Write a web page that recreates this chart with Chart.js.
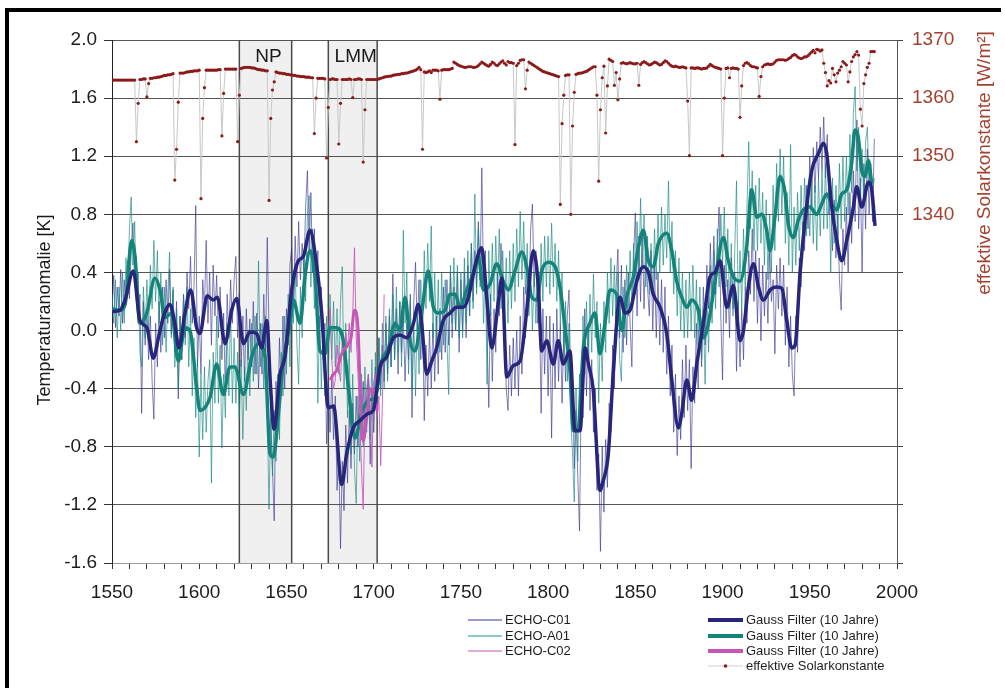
<!DOCTYPE html>
<html>
<head>
<meta charset="utf-8">
<script src="https://cdn.jsdelivr.net/npm/chart.js@4.4.1/dist/chart.umd.min.js"></script>
<style>
  html, body { margin: 0; padding: 0; background: #fff; }
  #wrap { position: relative; width: 1005px; height: 688px; }
</style>
</head>
<body>
<div id="wrap"><canvas id="c" width="1005" height="688"></canvas></div>
<script>
// ---- data -------------------------------------------------------------
const firstYear = 1550;           // annual series start
const pinkFirstYear = 1674;       // ECHO-C02 run start

// ECHO-C01 annual temperature anomaly [K], 1550-1987
const echoC01 = [
  0.13, 0.38, 0.02, 0.30, 0.10, 0.42, 0.05, 0.35, 0.18, 0.48,
  0.22, 0.55, 0.74, 0.30, 0.45, 0.05, 0.25, -0.57, 0.20, -0.10,
  0.15, -0.20, 0.10, -0.35, -0.61, 0.05, -0.25, 0.20, -0.15, 0.30,
  -0.05, 0.35, 0.05, 0.42, -0.02, 0.28, -0.15, 0.20, -0.47, 0.10,
  -0.20, 0.25, -0.05, 0.40, 0.15, 0.51, 0.05, 0.30, 0.86, -0.25,
  0.10, -0.30, 0.35, 0.15, 0.62, 0.05, 0.40, -0.10, 0.45, 0.10,
  0.38, -0.05, 0.30, -0.20, 0.12, -0.45, 0.25, -0.05, 0.35, 0.05,
  0.35, 0.51, -0.05, 0.25, -0.25, 0.10, -0.35, 0.15, -0.20, 0.08,
  -0.25, 0.20, -0.30, 0.12, -0.40, 0.05, -0.30, 0.25, -0.15, 0.64,
  0.00, -0.60, -0.95, -1.31, -0.35, -0.70, -0.05, -0.45, 0.10, -0.40,
  0.15, -0.10, 0.45, 0.57, 0.20, 0.65, 0.30, 0.75, 0.35, 0.60,
  0.40, 0.85, 1.10, 0.55, 0.95, 0.40, 0.70, 0.20, 0.55, -0.05,
  0.30, -0.20, 0.05, -0.78, -0.35, -0.70, -0.30, -0.75, -0.45, -1.10,
  -0.85, -1.50, -0.90, -1.24, -0.65, -1.05, -0.55, -0.95, -0.50, -0.85,
  -0.45, -0.80, -0.40, -0.75, -0.35, -0.70, -0.45, -0.30, -0.92, -0.40,
  -0.70, -0.25, -0.55, -0.05, -0.40, -0.10, -0.35, 0.05, -0.30, 0.10,
  -0.25, 0.39, -0.20, 0.15, -0.30, 0.20, -0.15, 0.10, -0.35, 0.05,
  -0.20, 0.25, -0.60, 0.20, 0.47, 0.00, 0.35, -0.20, 0.15, -0.62,
  -0.10, -0.45, 0.00, -0.40, 0.05, -0.35, 0.10, -0.30, 0.15, -0.20,
  0.30, -0.15, 0.35, -0.10, 0.40, -0.05, 0.30, 0.00, 0.40, -0.15,
  0.35, 0.00, 0.40, -0.05, 0.45, 0.10, 0.60, 0.20, 0.55, 0.30,
  0.75, 0.35, 1.12, 0.30, 0.55, -0.05, -0.53, 0.25, -0.35, 0.15,
  -0.15, 0.40, 0.10, 0.60, 0.25, 0.05, -0.40, -0.55, -0.10, -0.45,
  -0.05, -0.40, 0.00, -0.45, 0.10, -0.30, 0.30, -0.05, 0.45, 0.20,
  0.70, 0.87, 0.30, 0.55, 0.05, 0.20, -0.57, 0.15, -0.30, 0.10,
  -0.45, 0.10, -0.74, 0.05, -0.40, 0.15, -0.35, 0.05, -0.50, 0.00,
  -0.35, 0.10, 0.28, -0.40, -0.30, -0.95, -0.55, -1.00, -1.38, -0.40,
  -0.60, 0.15, -0.45, 0.05, -0.55, -0.20, -0.70, -0.40, -1.10, -0.85,
  -1.52, -0.80, -1.25, -0.75, -1.08, -0.50, -0.70, -0.10, -0.40, 0.30,
  0.56, -0.05, 0.45, -0.15, 0.35, -0.10, 0.40, 0.05, -0.25, 0.50,
  0.81, 0.10, 0.65, 0.20, 0.70, 0.15, 0.60, 0.30, 0.10, 0.55,
  0.00, 0.45, -0.05, 0.40, -0.10, 0.35, -0.15, 0.30, -0.30, 0.10,
  -0.45, -0.10, -0.70, -0.30, -0.86, -0.45, -0.75, -0.20, -0.60, -0.10,
  -0.55, -0.20, -0.95, -0.25, -0.50, 0.05, -0.40, 0.15, -0.25, 0.30,
  -0.10, 0.45, 0.15, 0.60, 0.20, 0.65, 0.25, 0.55, 0.85, 0.10,
  -0.34, 0.45, 0.05, 0.35, -0.05, 0.50, 0.15, 0.40, -0.28, 0.20,
  -0.25, 0.15, -0.20, 0.30, 0.05, 0.55, 0.25, 0.70, 0.20, 0.55,
  0.05, 0.50, -0.07, 0.45, 0.10, 0.40, 0.05, 0.55, 0.20, 0.35,
  -0.16, 0.45, 0.15, 0.50, 0.10, 0.45, -0.10, 0.30, -0.25, 0.10,
  -0.30, -0.45, 0.10, -0.15, 0.50, 0.30, 0.75, 0.55, 1.00, 0.70,
  1.20, 0.85, 1.26, 0.95, 1.30, 1.05, 1.40, 1.10, 1.47, 1.05,
  1.35, 0.80, 1.00, 0.55, 0.90, 0.50, 0.80, 0.35, 0.14, 0.70,
  0.45, 0.85, 0.40, 0.95, 0.60, 1.10, 0.75, 1.45, 0.70, 1.05,
  0.40, 1.15, 0.70, 1.25, 0.80, 1.10, 0.75, 1.32
];

// ECHO-A01 annual temperature anomaly [K], 1550-1987
const echoA01 = [
  0.25, 0.05, 0.35, -0.05, 0.30, 0.00, 0.40, 0.05, 0.50, 0.30,
  0.70, 0.92, 0.45, 0.75, 0.20, 0.40, -0.15, -0.25, 0.30, -0.05,
  0.35, 0.00, 0.45, 0.15, 0.62, 0.20, 0.55, 0.05, 0.40, -0.10,
  0.30, -0.15, 0.25, 0.54, -0.05, 0.30, -0.25, 0.15, -0.40, 0.10,
  -0.20, 0.25, -0.10, 0.30, -0.25, 0.15, -0.45, -0.05, -0.60, -0.20,
  -0.87, -0.30, -0.75, -0.25, -0.70, -0.35, -0.20, -1.05, -0.15, -0.50,
  0.10, -0.50, -0.10, -0.81, -0.30, -0.60, 0.05, -0.45, 0.15, -0.50,
  -0.05, -0.50, -0.15, -0.60, -0.20, -0.75, -0.25, -0.55, 0.00, -0.45,
  0.05, -0.35, 0.10, -0.30, 0.48, -0.25, 0.05, -0.40, 0.10, -0.55,
  -1.23, -0.60, -1.00, -0.55, -0.90, -0.30, -0.75, -0.15, -0.45, 0.10,
  -0.30, 0.25, -0.25, 0.40, 0.05, 0.45, -0.10, -0.37, 0.30, -0.05,
  0.55, 0.20, 0.80, 0.93, 0.30, 0.70, 0.15, 0.45, -0.50, 0.10,
  -0.40, 0.05, -0.45, 0.10, -0.30, 0.25, -0.20, 0.20, -0.25, 0.15,
  -0.30, 0.20, 0.44, -0.40, 0.05, -0.60, -0.10, -0.85, -0.30, -0.95,
  -1.19, -0.45, -0.90, -0.30, -0.80, -0.25, -0.70, -0.30, -0.75, -0.20,
  -0.70, -0.15, -0.60, -0.05, -0.45, 0.05, -0.40, 0.10, -0.35, 0.15,
  -0.25, 0.25, -0.20, 0.30, -0.15, 0.20, -0.25, 0.69, 0.05, 0.40,
  -0.30, 0.20, -0.40, 0.10, -0.45, 0.15, -0.30, 0.35, -0.05, 0.55,
  0.15, 0.60, 0.20, 0.72, -0.05, 0.40, -0.10, 0.35, -0.15, 0.40,
  -0.10, 0.35, -0.05, -0.44, 0.45, 0.05, 0.50, 0.00, 0.45, -0.05,
  0.40, -0.05, 0.50, 0.05, 0.55, 0.10, 0.60, 0.15, 0.94, 0.25,
  0.70, 0.30, 0.55, 0.05, 0.45, -0.37, 0.55, 0.10, 0.60, 0.20,
  0.65, 0.25, 0.70, 0.15, 0.55, 0.10, 0.50, 0.05, 0.55, 0.15,
  0.60, 0.20, 0.70, 0.30, 0.82, 0.35, 0.75, 0.25, 0.60, 0.10,
  0.45, 0.00, 0.40, 0.05, 0.45, 0.10, 0.60, 0.20, 0.65, 0.30,
  0.65, 0.25, 0.74, 0.30, 0.60, 0.20, 0.55, 0.05, 0.40, -0.20,
  0.20, -0.35, 0.05, -0.60, -0.85, -1.18, -0.40, -0.90, -0.30, -0.55,
  0.10, -0.30, 0.20, -0.25, 0.25, -0.15, 0.39, -0.05, 0.20, -0.50,
  0.05, -0.35, 0.20, -0.15, 0.40, 0.05, 0.50, 0.10, 0.45, -0.05,
  0.40, -0.20, -0.35, 0.30, -0.05, 0.45, 0.10, 0.55, 0.15, 0.60,
  0.25, 0.75, 0.35, 0.91, 0.45, 0.80, 0.30, 0.65, 0.25, 0.60,
  0.25, 0.70, 0.35, 0.80, 0.40, 0.85, 0.45, 0.80, 0.50, 1.03,
  0.40, 0.75, 0.25, 0.55, 0.10, 0.50, 0.00, 0.40, -0.05, 0.35,
  -0.05, 0.40, 0.00, 0.45, -0.05, 0.35, -0.10, 0.30, -0.20, 0.15,
  -0.37, 0.25, -0.15, 0.45, 0.05, 0.55, 0.15, 0.70, 0.30, 0.80,
  0.45, 0.85, 0.30, 0.70, 0.15, 0.60, 0.10, 0.55, 1.03, 0.15,
  0.55, 0.15, 0.70, 0.30, 0.85, 1.30, 0.70, 1.10, 0.55, 1.00,
  0.55, 1.05, 0.60, 0.95, 0.45, 0.90, 0.35, 0.80, 0.40, 1.00,
  0.55, 1.15, 0.75, 1.25, 0.80, 1.20, 0.60, 0.95, 0.45, 1.28,
  0.40, 0.85, 0.45, 0.95, 0.55, 1.00, 0.60, 1.05, 0.65, 1.00,
  0.65, 1.05, 0.60, 1.00, 0.55, 1.05, 0.65, 1.10, 0.70, 1.15,
  0.70, 1.10, 0.40, 1.05, 0.60, 1.00, 0.65, 1.15, 0.70, 1.20,
  0.75, 1.20, 0.80, 1.35, 0.95, 1.50, 1.68, 1.10, 1.40, 0.90,
  1.25, 0.85, 1.30, 1.40, 1.00, 1.15, 0.95, 1.05
];

// ECHO-C02 annual temperature anomaly [K], 1674-1706
const echoC02 = [
  -0.05, 0.15, -0.20, -0.40, -0.34, -0.10, -0.25, -0.35, -0.05, -0.20,
  -0.02, -0.12, 0.05, -0.15, 0.10, 0.57, -0.05, -0.30, -0.60, -0.95,
  -1.23, -0.50, -0.40, -0.30, -0.55, -0.94, -0.35, -0.30, -0.60, -0.45,
  -0.93, -0.50, 0.25
];

// 10-year Gauss-filtered curves: sample years and values [K]
const gaussC01Years = [
  1550, 1554.6, 1557.5, 1562.2, 1566, 1570, 1573.7, 1576.6, 1579.4, 1583.2,
  1586, 1588.4, 1591.8, 1595.1, 1598.5, 1600.4, 1604.6, 1608, 1610.4, 1614.8,
  1618.6, 1621.5, 1625.3, 1629.1, 1632.9, 1635.8, 1638.7, 1640.9, 1642.9, 1646.3,
  1649.2, 1653, 1656.8, 1659.7, 1663.5, 1666.4, 1670.2, 1674, 1677, 1681.7,
  1684.5, 1688.3, 1692.2, 1697, 1699.8, 1703.6, 1707.5, 1711.3, 1715.1, 1718.9,
  1722.8, 1725.6, 1727.5, 1730.4, 1733.3, 1736.1, 1739.9, 1743.8, 1747.6, 1751.4,
  1754.3, 1758.1, 1761.9, 1764.8, 1767.7, 1771.5, 1773.5, 1776.3, 1780.1, 1783.9,
  1787.7, 1791.5, 1794.4, 1796.3, 1799.2, 1803, 1805.8, 1808.7, 1812.5, 1815.4,
  1818.3, 1821.2, 1823.1, 1825.9, 1829.7, 1831.7, 1834.5, 1837.4, 1841.2, 1844.1,
  1847, 1850.8, 1854.6, 1857.5, 1860.3, 1864.2, 1868, 1870.9, 1874.7, 1876.6,
  1879.5, 1882.3, 1885.2, 1889, 1892.8, 1895.7, 1898.6, 1902.4, 1906.2, 1910,
  1912, 1914.8, 1917.7, 1920.6, 1923.4, 1927.3, 1931.1, 1934, 1936.8, 1939.7,
  1941.6, 1944.4, 1947.3, 1951.1, 1955, 1957.8, 1959.7, 1962.6, 1965.5, 1968.3,
  1971.2, 1975, 1976.9, 1979.8, 1983.6, 1985.5, 1987.4
];
const gaussC01 = [
  0.13, 0.14, 0.21, 0.41, 0.07, 0.02, -0.19, -0.05, 0.09, 0.18,
  0.05, -0.12, 0.12, 0.28, 0.02, -0.02, 0.24, 0.21, 0.23, -0.09,
  0.14, 0.22, -0.09, -0.01, -0.02, -0.12, 0.07, -0.39, -0.68, -0.30,
  -0.18, 0.28, 0.48, 0.51, 0.69, 0.53, 0.12, -0.53, -0.52, -1.06,
  -0.85, -0.67, -0.62, -0.57, -0.55, -0.25, -0.18, -0.05, -0.03, -0.05,
  0.05, 0.18, 0.05, -0.30, -0.21, -0.12, 0.07, 0.12, 0.16, 0.16,
  0.23, 0.44, 0.57, 0.23, -0.12, 0.20, 0.36, -0.32, -0.24, -0.21,
  0.13, 0.55, 0.30, -0.14, -0.07, -0.23, -0.07, -0.23, -0.14, -0.69,
  -0.69, -0.12, -0.23, -0.41, -1.10, -1.03, -0.85, -0.28, 0.23, 0.12,
  0.14, 0.34, 0.44, 0.40, 0.25, 0.16, -0.02, -0.34, -0.67, -0.57,
  -0.34, -0.48, -0.23, 0.05, 0.37, 0.40, 0.48, 0.16, 0.31, -0.07,
  0.00, 0.30, 0.46, 0.30, 0.21, 0.28, 0.30, 0.29, 0.07, -0.12,
  -0.10, 0.39, 0.76, 1.10, 1.22, 1.29, 1.22, 0.85, 0.62, 0.48,
  0.62, 0.85, 0.99, 0.85, 1.02, 0.97, 0.72
];

const gaussA01Years = [
  1550, 1554.6, 1557.5, 1561.3, 1563.2, 1566, 1569.9, 1574.6, 1577.5, 1580.4,
  1584.2, 1588, 1591.8, 1594.7, 1598.5, 1600.4, 1603.3, 1606.2, 1610, 1613.8,
  1617.6, 1620.5, 1625.3, 1630.1, 1633.9, 1637.7, 1640.6, 1642.5, 1645.4, 1648.2,
  1652.1, 1654, 1657.8, 1660.6, 1663.5, 1666.4, 1669.2, 1672.1, 1675, 1678.8,
  1682.6, 1685.5, 1689.3, 1693.1, 1697, 1700.8, 1704.6, 1708.5, 1712.3, 1715.1,
  1718, 1720.8, 1723.7, 1727.5, 1731.3, 1734.2, 1737.1, 1740.9, 1743.8, 1746.7,
  1749.5, 1753.3, 1757.1, 1760, 1762.9, 1766.7, 1770.5, 1774.3, 1777.2, 1781,
  1784.9, 1787.7, 1790.6, 1793.5, 1796.3, 1800.1, 1804, 1806.8, 1809.7, 1812.5,
  1814.5, 1817.3, 1820.2, 1824, 1826.9, 1829.7, 1832.6, 1835.5, 1839.3, 1842.2,
  1845, 1848.9, 1851.7, 1854.6, 1857.5, 1860.3, 1863.2, 1868, 1870.9, 1873.7,
  1876.6, 1879.5, 1882.3, 1886.1, 1889, 1891.9, 1895.7, 1900.5, 1903.3, 1906.2,
  1910, 1913.8, 1916.7, 1919.6, 1922.4, 1925.3, 1927.2, 1930, 1932.9, 1935.8,
  1937.6, 1940.5, 1943.4, 1946.3, 1950.1, 1954, 1956.8, 1959.7, 1962.6, 1965.4,
  1968.3, 1971.2, 1974, 1975.9, 1977.8, 1979.8, 1981.6, 1983.6, 1985.5
];
const gaussA01 = [
  0.15, 0.14, 0.18, 0.62, 0.51, 0.05, 0.12, 0.36, 0.28, 0.09,
  0.12, -0.21, 0.02, 0.00, -0.39, -0.55, -0.53, -0.46, -0.23, -0.44,
  -0.25, -0.25, -0.44, -0.18, -0.09, -0.18, -0.85, -0.87, -0.57, -0.21,
  0.05, 0.21, 0.05, 0.37, 0.55, 0.37, -0.14, -0.16, 0.02, 0.02,
  -0.07, -0.39, -0.74, -0.57, -0.48, -0.46, -0.21, -0.12, 0.05, 0.00,
  0.23, -0.07, -0.14, 0.12, 0.41, 0.16, 0.12, 0.14, 0.25, 0.25,
  0.16, 0.28, 0.39, 0.51, 0.28, 0.32, 0.46, 0.34, 0.28, 0.41,
  0.54, 0.44, 0.23, 0.21, 0.41, 0.47, 0.44, 0.30, 0.02, -0.28,
  -0.69, -0.67, -0.12, 0.05, 0.12, -0.16, 0.05, 0.28, 0.25, 0.00,
  0.23, 0.37, 0.57, 0.69, 0.48, 0.44, 0.60, 0.67, 0.55, 0.34,
  0.23, 0.16, 0.21, 0.14, -0.05, 0.05, 0.34, 0.64, 0.48, 0.37,
  0.34, 0.57, 0.97, 0.78, 0.80, 0.69, 0.55, 0.78, 1.06, 0.95,
  0.74, 0.64, 0.76, 0.83, 0.85, 0.80, 0.87, 0.94, 0.87, 0.83,
  0.94, 0.97, 1.15, 1.38, 1.33, 1.10, 1.06, 1.17, 1.01
];

const gaussC02Years = [1675, 1677, 1679, 1681, 1683, 1685, 1687, 1689, 1691, 1692, 1694, 1696, 1698, 1700, 1702];
const gaussC02 = [-0.34, -0.30, -0.27, -0.18, -0.13, -0.10, -0.05, 0.14, 0.02, -0.30, -0.76, -0.60, -0.40, -0.42, -0.55];

// effective solar constant [W/m²], annual 1550-1987
const solarConstant = [
  1363.1, 1363.1, 1363.1, 1363.1, 1363.1, 1363.1, 1363.1, 1363.1, 1363.1, 1363.1,
  1363.1, 1363.1, 1363.1, 1363.1, 1352.5, 1359.1, 1363.2, 1363.2, 1363.3, 1363.3,
  1360.2, 1362.5, 1363.4, 1363.4, 1363.5, 1363.5, 1363.6, 1363.6, 1363.7, 1363.8,
  1363.9, 1363.9, 1364.0, 1364.0, 1364.1, 1364.2, 1345.9, 1351.2, 1359.3, 1364.3,
  1364.3, 1364.3, 1364.4, 1364.5, 1364.5, 1364.6, 1364.6, 1364.7, 1364.7, 1364.7,
  1364.8, 1342.7, 1356.5, 1361.8, 1364.8, 1364.8, 1364.8, 1364.8, 1364.8, 1364.8,
  1364.8, 1364.9, 1364.9, 1353.5, 1360.8, 1365.0, 1365.0, 1365.0, 1365.0, 1365.0,
  1365.0, 1365.0, 1352.5, 1360.5, 1365.1, 1365.2, 1365.3, 1365.3, 1365.3, 1365.3,
  1365.2, 1365.2, 1365.1, 1365.0, 1364.9, 1364.9, 1364.8, 1364.8, 1364.7, 1364.7,
  1342.4, 1356.5, 1361.4, 1362.8, 1364.5, 1364.4, 1364.3, 1364.3, 1364.2, 1364.2,
  1364.1, 1364.1, 1364.0, 1364.0, 1363.9, 1363.9, 1363.8, 1363.8, 1363.7, 1363.7,
  1363.7, 1363.6, 1363.6, 1363.6, 1363.5, 1363.5, 1353.9, 1360.0, 1363.4, 1363.4,
  1363.4, 1363.4, 1363.3, 1349.7, 1358.4, 1363.2, 1363.3, 1363.3, 1363.2, 1363.2,
  1352.1, 1359.1, 1363.2, 1363.2, 1363.2, 1363.2, 1363.3, 1363.2, 1360.1, 1363.2,
  1363.2, 1363.3, 1363.3, 1363.2, 1349.0, 1358.0, 1363.2, 1363.2, 1363.2, 1363.2,
  1363.2, 1363.2, 1363.2, 1363.3, 1363.4, 1363.5, 1363.6, 1363.7, 1363.7, 1363.8,
  1363.8, 1363.9, 1364.0, 1364.0, 1364.1, 1364.1, 1364.2, 1364.2, 1364.3, 1364.3,
  1364.4, 1364.5, 1364.6, 1364.7, 1364.8, 1365.0, 1365.3, 1364.9, 1351.2, 1364.5,
  1364.4, 1364.5, 1364.7, 1364.4, 1364.8, 1364.8, 1364.8, 1364.7, 1359.8, 1364.8,
  1364.9, 1364.9, 1364.9, 1364.9, 1365.0, 1365.1, 1366.2, 1366.0, 1365.8, 1365.6,
  1365.5, 1365.4, 1365.3, 1365.3, 1365.4, 1365.4, 1365.4, 1365.3, 1365.3, 1365.4,
  1365.6, 1365.9, 1366.2, 1366.0, 1365.8, 1365.6, 1365.5, 1365.8, 1366.2, 1366.0,
  1365.7, 1365.6, 1365.9, 1366.2, 1366.4, 1366.0, 1365.7, 1366.3, 1366.1, 1366.1,
  1366.0, 1352.0, 1365.6, 1366.0, 1366.5, 1366.6, 1366.6, 1361.6, 1364.8, 1366.2,
  1366.0, 1365.8, 1365.6, 1365.4, 1365.2, 1365.0, 1364.8, 1364.6, 1364.5, 1364.4,
  1364.3, 1364.2, 1364.1, 1364.0, 1363.9, 1363.8, 1363.7, 1341.7, 1355.6, 1360.5,
  1363.9, 1364.0, 1364.0, 1340.0, 1355.2, 1361.0, 1364.1, 1364.2, 1364.3, 1364.3,
  1364.4, 1364.5, 1364.6, 1364.8, 1365.0, 1365.2, 1365.4, 1365.4, 1360.5, 1345.7,
  1358.0, 1363.5, 1365.5, 1354.0, 1362.1, 1366.7, 1366.5, 1366.3, 1362.2, 1364.4,
  1359.7, 1363.3, 1366.0, 1366.1, 1366.0, 1365.9, 1366.0, 1366.1, 1366.0, 1365.9,
  1365.9, 1366.0, 1362.2, 1365.8, 1366.1, 1366.3, 1366.1, 1365.9, 1365.7, 1365.8,
  1366.0, 1366.2, 1366.1, 1365.9, 1365.7, 1365.8, 1366.1, 1366.4, 1366.3, 1366.0,
  1365.7, 1365.5, 1365.4, 1365.5, 1365.4, 1365.3, 1365.3, 1365.4, 1365.3, 1365.2,
  1359.5, 1350.1, 1365.2, 1365.2, 1365.1, 1365.2, 1365.2, 1365.1, 1365.0, 1365.1,
  1365.1, 1365.2, 1365.5, 1365.8, 1365.6, 1365.4, 1365.3, 1365.2, 1365.1, 1365.0,
  1350.1, 1360.0, 1365.1, 1365.2, 1363.5, 1365.1, 1365.2, 1365.1, 1365.1, 1365.0,
  1356.7, 1362.1, 1365.6, 1366.0, 1366.1, 1365.9, 1365.6, 1365.4, 1365.4, 1365.3,
  1365.2, 1360.3, 1363.7, 1365.4, 1365.7, 1365.8, 1365.9, 1365.8, 1365.8, 1365.9,
  1366.2, 1366.5, 1366.6, 1366.6, 1366.6, 1366.6, 1366.5, 1366.6, 1366.8, 1367.0,
  1367.3, 1367.5, 1367.4, 1367.1, 1366.9, 1366.8, 1366.9, 1367.1, 1367.1, 1367.3,
  1367.6, 1367.9, 1368.2, 1367.8, 1368.4, 1368.3, 1368.1, 1368.3, 1366.0, 1364.4,
  1362.1, 1363.0, 1362.6, 1365.1, 1364.0, 1362.8, 1364.3, 1364.8, 1365.4, 1366.3,
  1366.0, 1365.7, 1362.8, 1364.5, 1366.3, 1367.1, 1367.5, 1368.0, 1367.4, 1358.1,
  1355.2, 1362.5, 1364.0, 1365.3, 1366.0, 1368.0, 1368.0, 1368.0
];

// marked periods (Nullpunkt-/Maunder-Minimum windows)
const periodLabels = ['NP', 'LMM'];
const periodStart = [1623, 1674];
const periodEnd = [1653, 1702];

// axis tick settings
const xTickStep = 10, xLabelStep = 50;
const tempTickStep = 0.4, solarTickStep = 10, solarLabelMin = 1340;

// ---- helpers -----------------------------------------------------------
const annual = (arr, start) => arr.map((v, i) => ({ x: start + i, y: v }));
const paired = (xs, ys) => xs.map((x, i) => ({ x, y: ys[i] }));

const FONT = '"Liberation Sans", Arial, Helvetica, sans-serif';
Chart.defaults.font.family = FONT;

const COL = {
  navyThin: 'rgba(52,52,145,0.62)',
  tealThin: 'rgba(14,132,122,0.62)',
  pinkThin: 'rgba(200,84,186,0.85)',
  navy: '#27267a',
  teal: '#14847b',
  pink: '#c457b6',
  solarDot: '#8b1a1a',
  solarLine: '#c8c8c8',
  solarAxis: '#a3412e'
};

// ---- plugins -----------------------------------------------------------
const decorPlugin = {
  id: 'decor',
  beforeDraw(chart) {
    const { ctx, chartArea: { top, bottom }, scales: { x } } = chart;
    ctx.save();
    ctx.fillStyle = '#ffffff';
    ctx.fillRect(0, 0, chart.width, chart.height);
    periodLabels.forEach((_, i) => {
      const x0 = x.getPixelForValue(periodStart[i]);
      const x1 = x.getPixelForValue(periodEnd[i]);
      ctx.fillStyle = '#f0f0f0';
      ctx.fillRect(x0, top, x1 - x0, bottom - top);
    });
    ctx.restore();
  },
  beforeDatasetsDraw(chart) {
    const { ctx, chartArea: { top, bottom }, scales: { x } } = chart;
    ctx.save();
    ctx.strokeStyle = '#4a4a4a';
    ctx.lineWidth = 1.5;
    periodLabels.forEach((lab, i) => {
      const x0 = x.getPixelForValue(periodStart[i]);
      const x1 = x.getPixelForValue(periodEnd[i]);
      ctx.beginPath();
      ctx.moveTo(x0, top); ctx.lineTo(x0, bottom);
      ctx.moveTo(x1, top); ctx.lineTo(x1, bottom);
      ctx.stroke();
      ctx.fillStyle = '#1a1a1a';
      ctx.font = '19px ' + FONT;
      ctx.textAlign = 'center';
      ctx.textBaseline = 'middle';
      ctx.fillText(lab, (x0 + x1) / 2 + 3, top + 17);
    });
    ctx.restore();
  },
  afterDraw(chart) {
    const { ctx, data: { datasets } } = chart;
    ctx.save();
    // axis titles
    ctx.fillStyle = '#1a1a1a';
    ctx.font = '18px ' + FONT;
    ctx.textAlign = 'center';
    ctx.textBaseline = 'middle';
    ctx.translate(45, 310);
    ctx.rotate(-Math.PI / 2);
    ctx.fillText('Temperaturanomalie [K]', 0, 0);
    ctx.setTransform(1, 0, 0, 1, 0, 0);
    ctx.fillStyle = COL.solarAxis;
    ctx.font = '19px ' + FONT;
    ctx.translate(985, 163);
    ctx.rotate(-Math.PI / 2);
    ctx.fillText('effektive Solarkonstante [W/m²]', 0, 0);
    ctx.setTransform(1, 0, 0, 1, 0, 0);

    // legend, two columns
    ctx.font = '13px ' + FONT;
    ctx.textAlign = 'left';
    ctx.textBaseline = 'middle';
    const rowY = [620, 636, 651, 666];
    const drawRow = (ds, lx0, lx1, y, w) => {
      ctx.strokeStyle = ds.legendColor || ds.borderColor;
      ctx.lineWidth = w;
      ctx.beginPath(); ctx.moveTo(lx0, y); ctx.lineTo(lx1, y); ctx.stroke();
      ctx.fillStyle = '#1e1e1e';
      ctx.fillText(ds.label, lx1 + 3, y);
    };
    [0, 1, 2].forEach((k, i) => drawRow(datasets[k], 468, 502, rowY[i], 1));
    [3, 4, 5].forEach((k, i) => drawRow(datasets[k], 708, 743, rowY[i], 4));
    const sol = datasets[6];
    drawRow(sol, 708, 743, rowY[3], 1);
    ctx.fillStyle = COL.solarDot;
    ctx.beginPath(); ctx.arc(725.5, rowY[3], 1.8, 0, Math.PI * 2); ctx.fill();

    // outer frame (left and top edges)
    ctx.fillStyle = '#000';
    ctx.fillRect(5, 8, 996, 4);
    ctx.fillRect(5, 8, 4, chart.height - 8);
    ctx.restore();
  }
};

// ---- chart -------------------------------------------------------------
const thin = (label, data, color, legendColor, order) => ({
  label, data, borderColor: color, legendColor, borderWidth: 1,
  pointRadius: 0, yAxisID: 'y', order, tension: 0
});
const thick = (label, data, color, width, order) => ({
  label, data, borderColor: color, borderWidth: width, pointRadius: 0,
  yAxisID: 'y', order, cubicInterpolationMode: 'monotone'
});

new Chart(document.getElementById('c'), {
  type: 'line',
  data: {
    datasets: [
      thin('ECHO-C01', annual(echoC01, firstYear), COL.navyThin, '#3a3a94', 6),
      thin('ECHO-A01', annual(echoA01, firstYear), COL.tealThin, '#1f958b', 5),
      thin('ECHO-C02', annual(echoC02, pinkFirstYear), COL.pinkThin, '#c05cb2', 4),
      thick('Gauss Filter (10 Jahre)', paired(gaussC01Years, gaussC01), COL.navy, 3.5, 1),
      thick('Gauss Filter (10 Jahre)', paired(gaussA01Years, gaussA01), COL.teal, 3.5, 3),
      thick('Gauss Filter (10 Jahre)', paired(gaussC02Years, gaussC02), COL.pink, 3, 2),
      {
        label: 'effektive Solarkonstante',
        data: annual(solarConstant, firstYear),
        yAxisID: 'y2',
        borderColor: COL.solarLine,
        legendColor: '#d0d0d0',
        borderWidth: 1,
        pointRadius: 1.6,
        pointBackgroundColor: COL.solarDot,
        pointBorderWidth: 0,
        order: 0,
        tension: 0
      }
    ]
  },
  options: {
    responsive: false,
    animation: false,
    devicePixelRatio: 1,
    layout: { padding: { top: 40, left: 0, right: 0, bottom: 0 } },
    plugins: { legend: { display: false }, tooltip: { enabled: false } },
    scales: {
      x: {
        type: 'linear', min: 1550, max: 2000,
        afterFit(s) { s.height = 125; },
        ticks: {
          stepSize: xTickStep, autoSkip: false, maxRotation: 0, minRotation: 0,
          padding: 12, color: '#1e1e1e', font: { size: 19 },
          callback: v => (v % xLabelStep === 0 ? String(v) : '')
        },
        grid: { drawOnChartArea: false, drawTicks: true, tickLength: 6, tickColor: '#333' },
        border: { display: true, color: '#9a9a9a', width: 1 }
      },
      y: {
        position: 'left', min: -1.6, max: 2.0,
        afterFit(s) { s.width = 112; },
        ticks: {
          stepSize: tempTickStep, padding: 7, color: '#1e1e1e', font: { size: 19 },
          callback: v => (Math.round(v * 10) / 10).toFixed(1)
        },
        grid: {
          color: c => (c.index === 0 ? 'rgba(0,0,0,0)' : '#555555'),
          lineWidth: 1, tickLength: 8, tickColor: '#333'
        },
        border: { color: '#222', width: 1 }
      },
      y2: {
        position: 'right', min: 1280, max: 1370,
        afterFit(s) { s.width = 108; },
        ticks: {
          stepSize: solarTickStep, padding: 9, color: COL.solarAxis, font: { size: 19 },
          callback: v => (v >= solarLabelMin ? String(v) : '')
        },
        grid: { drawOnChartArea: false, tickLength: 6, tickColor: '#444' },
        border: { color: '#555', width: 1 }
      }
    }
  },
  plugins: [decorPlugin]
});
</script>
</body>
</html>
